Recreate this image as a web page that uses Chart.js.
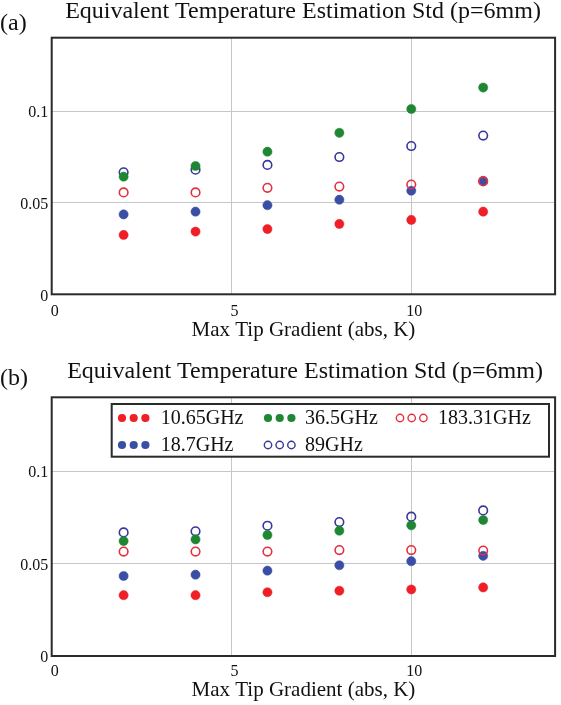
<!DOCTYPE html>
<html>
<head>
<meta charset="utf-8">
<script src="https://cdn.jsdelivr.net/npm/chart.js@4.4.0/dist/chart.umd.min.js"></script>
<style>
  html, body { margin: 0; padding: 0; background: #fff; }
  #wrap { position: relative; width: 561px; height: 705px; overflow: hidden; }
  #wrapA { position: absolute; left: 0; top: 0; width: 561px; height: 352px; }
  #wrapB { position: absolute; left: 0; top: 352px; width: 561px; height: 353px; }
</style>
</head>
<body>
<div id="wrap">
  <div id="wrapA"><canvas id="chartA" width="561" height="352"></canvas></div>
  <div id="wrapB"><canvas id="chartB" width="561" height="353"></canvas></div>
</div>
<script>
// ---------------- data ----------------
const xValues = [2, 4, 6, 8, 10, 12];
const seriesNames = ['10.65GHz', '36.5GHz', '183.31GHz', '18.7GHz', '89GHz'];

// panel (a)
const a_10_65 = [0.0324, 0.0342, 0.0356, 0.0384, 0.0406, 0.0451];
const a_36_5  = [0.0642, 0.0700, 0.0778, 0.0881, 0.1011, 0.1128];
const a_183_31 = [0.0556, 0.0556, 0.0581, 0.0588, 0.0599, 0.0616];
const a_18_7  = [0.0436, 0.0451, 0.0486, 0.0516, 0.0565, 0.0619];
const a_89    = [0.0666, 0.0680, 0.0706, 0.0749, 0.0809, 0.0866];

// panel (b)
const b_10_65 = [0.0329, 0.0329, 0.0345, 0.0353, 0.0360, 0.0371];
const b_36_5  = [0.0622, 0.0631, 0.0655, 0.0678, 0.0707, 0.0736];
const b_183_31 = [0.0565, 0.0565, 0.0565, 0.0573, 0.0573, 0.0571];
const b_18_7  = [0.0433, 0.0440, 0.0462, 0.0491, 0.0513, 0.0542];
const b_89    = [0.0669, 0.0675, 0.0705, 0.0725, 0.0754, 0.0788];

const xTickValues = [0, 5, 10];
const yTickValues = [0, 0.05, 0.1];
const xTickLabels = ['0', '5', '10'];
const yTickLabels = ['0', '0.05', '0.1'];
const xAxisTitle = 'Max Tip Gradient (abs, K)';
const chartTitle = 'Equivalent Temperature Estimation Std (p=6mm)';

// ---------------- styles ----------------
const styles = [
  { color: '#ee1f26', open: false },
  { color: '#1f8733', open: false },
  { color: '#e5313d', open: true },
  { color: '#3a4ea5', open: false },
  { color: '#37379c', open: true }
];
const SERIF = '"Liberation Serif", "Times New Roman", serif';
const INK = '#111';

function makeDatasets(arrs) {
  return arrs.map((vals, i) => {
    const s = styles[i];
    return {
      label: seriesNames[i],
      data: xValues.map((x, j) => ({ x: x, y: vals[j] })),
      showLine: false,
      pointRadius: s.open ? 4.3 : 4.6,
      pointHoverRadius: s.open ? 4.3 : 4.6,
      pointBorderWidth: s.open ? 1.6 : 0.5,
      pointBorderColor: s.color,
      pointBackgroundColor: s.open ? 'rgba(0,0,0,0)' : s.color,
      borderColor: s.color,
      backgroundColor: s.open ? 'rgba(0,0,0,0)' : s.color
    };
  });
}

const frame = {
  id: 'frame',
  afterDatasetsDraw(chart) {
    const a = chart.chartArea, ctx = chart.ctx;
    ctx.save();
    ctx.strokeStyle = '#2a2a2a';
    ctx.lineWidth = 2;
    ctx.strokeRect(a.left, a.top, a.right - a.left, a.bottom - a.top);
    ctx.restore();
  }
};

function titlePlugin(tag, titleBase, tagBase, titleCx) {
  return {
    id: 'ttl',
    afterDraw(chart) {
      const ctx = chart.ctx;
      ctx.save();
      ctx.fillStyle = INK;
      ctx.font = '24px ' + SERIF;
      ctx.textBaseline = 'alphabetic';
      ctx.textAlign = 'left';
      ctx.fillText(tag, 0, tagBase);
      ctx.textAlign = 'center';
      ctx.fillText(chartTitle, titleCx, titleBase);
      ctx.restore();
    }
  };
}

const legendPlugin = {
  id: 'customLegend',
  afterDraw(chart) {
    const ctx = chart.ctx;
    const box = { l: 111.7, t: 52, r: 549, b: 104.7 };
    ctx.save();
    ctx.fillStyle = '#fff';
    ctx.fillRect(box.l, box.t, box.r - box.l, box.b - box.t);
    ctx.strokeStyle = '#2a2a2a';
    ctx.lineWidth = 2;
    ctx.strokeRect(box.l, box.t, box.r - box.l, box.b - box.t);
    const colDot = [122, 268, 400];
    const colText = [160.7, 305, 438];
    const rowY = [66, 93];
    ctx.font = '20px ' + SERIF;
    ctx.textBaseline = 'middle';
    ctx.textAlign = 'left';
    chart.data.datasets.forEach((ds, i) => {
      const c = i % 3, r = Math.floor(i / 3);
      const open = styles[i].open;
      for (let k = 0; k < 3; k++) {
        ctx.beginPath();
        ctx.arc(colDot[c] + k * 11.7, rowY[r], open ? 3.7 : 4.1, 0, Math.PI * 2);
        if (open) { ctx.strokeStyle = ds.pointBorderColor; ctx.lineWidth = 1.4; ctx.stroke(); }
        else { ctx.fillStyle = ds.pointBackgroundColor; ctx.fill(); }
      }
      ctx.fillStyle = INK;
      ctx.fillText(ds.label, colText[c], rowY[r] + 1);
    });
    ctx.restore();
  }
};

function makeOptions(cfg) {
  return {
    responsive: false,
    animation: false,
    devicePixelRatio: 1,
    layout: { padding: { top: cfg.top, left: 0, right: cfg.right, bottom: 0 } },
    plugins: { legend: { display: false }, title: { display: false }, tooltip: { enabled: false } },
    scales: {
      x: {
        type: 'linear', min: 0, max: 14,
        afterBuildTicks: ax => { ax.ticks = xTickValues.map(v => ({ value: v })); },
        afterFit: ax => { ax.height = cfg.xh; },
        border: { display: false },
        grid: { color: c => (c.tick && c.tick.value === 0) ? 'rgba(0,0,0,0)' : '#c6c6c6', lineWidth: 1, drawTicks: false },
        ticks: {
          padding: cfg.xtp, labelOffset: 3, color: INK, maxRotation: 0,
          font: { family: SERIF, size: 16 },
          callback: v => { const i = xTickValues.indexOf(v); return i >= 0 ? xTickLabels[i] : ''; }
        },
        title: {
          display: true, text: xAxisTitle, color: INK,
          font: { family: SERIF, size: 21 }, padding: { top: 0, bottom: cfg.xtb }
        }
      },
      y: {
        type: 'linear', min: 0, max: 0.14,
        afterBuildTicks: ax => { ax.ticks = yTickValues.map(v => ({ value: v })); },
        afterFit: ax => { ax.width = 51.7; },
        border: { display: false },
        grid: { color: c => (c.tick && c.tick.value === 0) ? 'rgba(0,0,0,0)' : '#c6c6c6', lineWidth: 1, drawTicks: false },
        ticks: {
          padding: 3.5, labelOffset: 2, color: INK,
          font: { family: SERIF, size: 16 },
          callback: v => { const i = yTickValues.findIndex(t => Math.abs(t - v) < 1e-9); return i >= 0 ? yTickLabels[i] : ''; }
        }
      }
    }
  };
}

new Chart(document.getElementById('chartA'), {
  type: 'scatter',
  data: { datasets: makeDatasets([a_10_65, a_36_5, a_183_31, a_18_7, a_89]) },
  options: makeOptions({ top: 37.7, right: 4.3, xh: 57.7, xtp: 8, xtb: 9 }),
  plugins: [frame, titlePlugin('(a)', 17.5, 30, 303)]
});

new Chart(document.getElementById('chartB'), {
  type: 'scatter',
  data: { datasets: makeDatasets([b_10_65, b_36_5, b_183_31, b_18_7, b_89]) },
  options: makeOptions({ top: 45.3, right: 3.5, xh: 49, xtp: 6, xtb: 2 }),
  plugins: [frame, titlePlugin('(b)', 25.5, 32.7, 305), legendPlugin]
});
</script>
</body>
</html>
